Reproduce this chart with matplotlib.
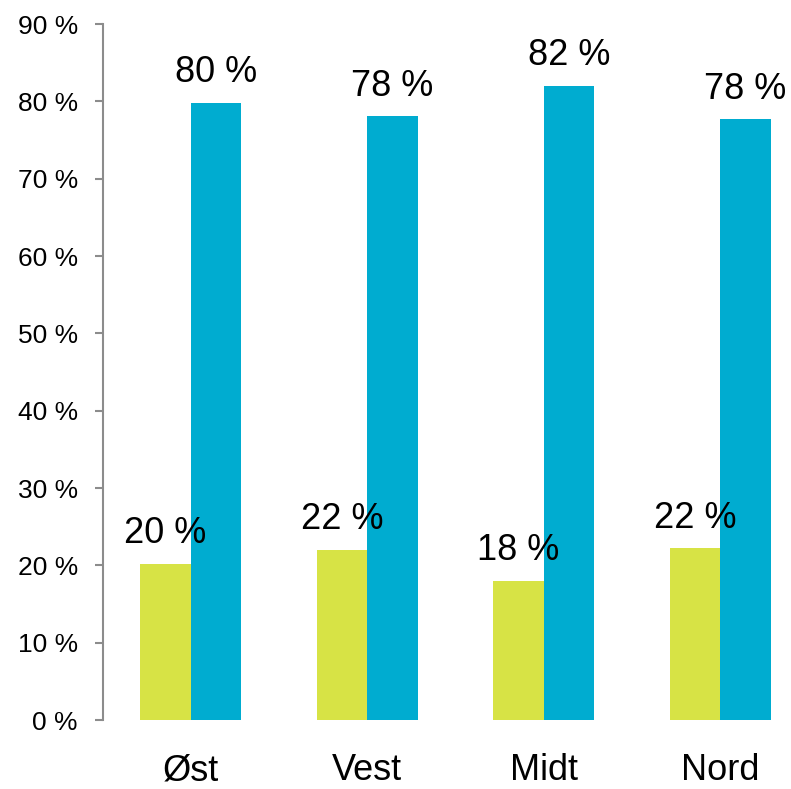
import matplotlib
matplotlib.use("Agg")
import matplotlib.pyplot as plt
import numpy as np

categories = ["Øst", "Vest", "Midt", "Nord"]
green_values = [20.2, 22.0, 18.0, 22.2]
blue_values = [79.8, 78.1, 82.0, 77.7]
green_labels = ["20 %", "22 %", "18 %", "22 %"]
blue_labels = ["80 %", "78 %", "82 %", "78 %"]
yticks = [0, 10, 20, 30, 40, 50, 60, 70, 80, 90]
ytick_labels = [f"{v} %" for v in yticks]

plt.rcParams['font.family'] = ['Liberation Sans', 'DejaVu Sans']

W, H = 791, 789
fig = plt.figure(figsize=(W/100, H/100), dpi=100)
ax = fig.add_axes([103/W, 69/H, 688/W, 696/H])

x = np.arange(len(categories))
bw = 0.286
gcol = "#D7E345"
bcol = "#00ACD0"
gb = ax.bar(x - bw/2, green_values, width=bw, color=gcol, linewidth=0)
bb = ax.bar(x + bw/2, blue_values, width=bw, color=bcol, linewidth=0)

for rect, lab in zip(gb, green_labels):
    ax.annotate(lab, (rect.get_x() + rect.get_width()/2, rect.get_height()),
                xytext=(0, 9), textcoords="offset points", ha="center", va="bottom",
                fontsize=26, color="black")
for rect, lab in zip(bb, blue_labels):
    ax.annotate(lab, (rect.get_x() + rect.get_width()/2, rect.get_height()),
                xytext=(0, 9), textcoords="offset points", ha="center", va="bottom",
                fontsize=26, color="black")

ax.set_xlim(-0.496, 3.402)
ax.set_ylim(0, 90)
ax.set_yticks(yticks)
ax.set_yticklabels(ytick_labels, fontsize=19)
ax.set_xticks(x)
ax.set_xticklabels(categories, fontsize=26)
ax.tick_params(axis='x', length=0, pad=24)
ax.tick_params(axis='y', length=6, width=1.5, color="#8c8c8c", pad=12)

for s in ["top", "right", "bottom"]:
    ax.spines[s].set_visible(False)
ax.spines["left"].set_color("#8c8c8c")
ax.spines["left"].set_linewidth(1.5)

fig.savefig("out.png", dpi=100)
